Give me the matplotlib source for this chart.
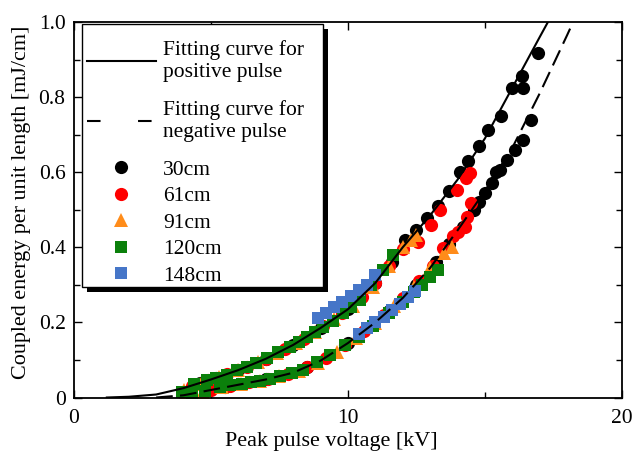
import matplotlib
matplotlib.use('Agg')
import matplotlib.pyplot as plt
from matplotlib.lines import Line2D
from matplotlib.patches import Rectangle

plt.rcParams['font.family'] = ['Liberation Serif', 'DejaVu Serif']

# fitting curves
fit_pos_v = [1.2, 2, 3, 4, 5, 6, 7, 8, 9, 10, 11, 12, 13, 14, 15, 16, 17, 17.3]
fit_pos_e = [0, 0.002, 0.008, 0.025, 0.048, 0.073, 0.103, 0.14, 0.185, 0.235,
             0.305, 0.40, 0.485, 0.58, 0.69, 0.825, 0.96, 1.0]
fit_neg_v = [3, 4, 5, 6, 7, 8, 9, 10, 11, 12, 13, 14, 15, 16, 17, 18, 18.22]
fit_neg_e = [0, 0.006, 0.02, 0.034, 0.048, 0.066, 0.098, 0.145, 0.20, 0.265,
             0.345, 0.445, 0.55, 0.665, 0.81, 0.965, 1.0]

# 30cm
v30_pos = [4.6, 5.2, 6.0, 7.0, 8.0, 9.0, 10.0, 11.0, 11.6, 12.1, 12.5, 12.9, 13.3,
           13.7, 14.1, 14.4, 14.8, 15.1, 15.6, 16.0, 16.35, 16.4, 16.95]
e30_pos = [0.039, 0.053, 0.073, 0.103, 0.14, 0.185, 0.235, 0.305, 0.36, 0.42, 0.445,
           0.478, 0.51, 0.549, 0.60, 0.629, 0.67, 0.713, 0.749, 0.824, 0.855, 0.824, 0.918]
v30_neg = [5.5, 7.0, 8.5, 10.0, 11.5, 12.5, 13.2, 13.7, 14.2, 14.6, 14.8, 15.0, 15.25,
           15.4, 15.55, 15.8, 16.1, 16.4, 16.7]
e30_neg = [0.028, 0.048, 0.08, 0.145, 0.23, 0.30, 0.36, 0.41, 0.455, 0.50, 0.522, 0.545,
           0.571, 0.60, 0.607, 0.633, 0.66, 0.687, 0.74]

# 61cm
v61_pos = [4.3, 4.9, 5.6, 6.3, 7.0, 7.7, 8.4, 9.1, 9.8, 10.5, 11.0, 11.5, 12.0, 12.57,
           13.05, 13.36, 13.97, 14.3, 14.45]
e61_pos = [0.03, 0.046, 0.062, 0.082, 0.103, 0.128, 0.155, 0.19, 0.226, 0.268, 0.305,
           0.35, 0.395, 0.415, 0.46, 0.50, 0.553, 0.585, 0.598]
v61_neg = [4.2, 5.0, 5.7, 6.4, 7.1, 7.8, 8.5, 9.2, 9.9, 10.6, 11.3, 12.0, 12.6, 13.1,
           13.48, 13.84, 14.0, 14.27, 14.33, 14.51]
e61_neg = [0.004, 0.02, 0.03, 0.04, 0.05, 0.062, 0.08, 0.105, 0.14, 0.178, 0.22, 0.265,
           0.31, 0.35, 0.398, 0.429, 0.44, 0.455, 0.482, 0.518]

# 91cm
v91_pos = [4.0, 4.6, 5.3, 6.0, 6.7, 7.4, 8.1, 8.8, 9.5, 10.2, 10.9, 11.5, 12.0, 12.3, 12.5]
e91_pos = [0.02, 0.036, 0.055, 0.073, 0.094, 0.118, 0.145, 0.175, 0.208, 0.245, 0.295,
           0.35, 0.40, 0.42, 0.433]
v91_neg = [4.0, 4.7, 5.4, 6.1, 6.8, 7.5, 8.2, 8.9, 9.6, 10.3, 11.0, 11.7, 12.4, 13.0,
           13.5, 13.8]
e91_neg = [0.004, 0.015, 0.027, 0.035, 0.045, 0.056, 0.07, 0.093, 0.12, 0.158, 0.198,
           0.245, 0.295, 0.345, 0.385, 0.40]

# 120cm
v120_pos = [3.93, 4.4, 4.84, 5.2, 5.57, 5.95, 6.3, 6.65, 7.03, 7.45, 7.88, 8.2, 8.49,
            8.8, 9.1, 9.45, 9.83, 10.1, 10.44, 10.85, 11.29, 11.65]
e120_pos = [0.015, 0.035, 0.047, 0.053, 0.06, 0.072, 0.082, 0.093, 0.104, 0.12, 0.135,
            0.148, 0.162, 0.175, 0.189, 0.205, 0.224, 0.24, 0.26, 0.30, 0.34, 0.38]
v120_neg = [4.3, 4.8, 5.33, 5.7, 6.12, 6.45, 6.79, 7.15, 7.52, 7.95, 8.37, 8.86, 9.34,
            9.89, 10.4, 10.9, 11.5, 12.0, 12.4, 12.7, 13.0, 13.3]
e120_neg = [0.01, 0.018, 0.029, 0.032, 0.036, 0.04, 0.045, 0.05, 0.058, 0.066, 0.073,
            0.095, 0.113, 0.14, 0.162, 0.19, 0.225, 0.255, 0.28, 0.3, 0.32, 0.34]

# 148cm
v148_pos = [8.9, 9.2, 9.5, 9.8, 10.1, 10.4, 10.7, 11.0]
e148_pos = [0.212, 0.225, 0.24, 0.255, 0.27, 0.287, 0.30, 0.325]
v148_neg = [10.4, 10.7, 11.0, 11.3, 11.6, 11.9, 12.2, 12.45]
e148_neg = [0.17, 0.185, 0.2, 0.215, 0.232, 0.25, 0.268, 0.285]

labels = ['30cm', '61cm', '91cm', '120cm', '148cm']
colors = ['black', '#ff0000', '#ff8c1a', '#0b800b', '#4676c8']
markers = ['o', 'o', '^', 's', 's']
sizes = [9.5, 9.5, 10.5, 9, 9]
series = [(v30_pos, e30_pos, v30_neg, e30_neg),
          (v61_pos, e61_pos, v61_neg, e61_neg),
          (v91_pos, e91_pos, v91_neg, e91_neg),
          (v120_pos, e120_pos, v120_neg, e120_neg),
          (v148_pos, e148_pos, v148_neg, e148_neg)]

fig = plt.figure(figsize=(6.32, 4.51), dpi=100)
ax = fig.add_axes([0.117, 0.1186, 0.867, 0.8325])

for (vp, ep, vn, en), c, m, s in zip(series, colors, markers, sizes):
    ax.plot(vp + vn, ep + en, linestyle='none', marker=m, ms=s, color=c,
            markeredgewidth=0, zorder=2)

ax.plot(fit_pos_v, fit_pos_e, color='black', lw=1.5, zorder=3)
ax.plot(fit_neg_v, fit_neg_e, color='black', lw=1.5, linestyle=(0, (8, 3.5)), zorder=3)

ax.set_xlim(0, 20)
ax.set_ylim(0, 1.0)
ax.set_xticks([0, 10, 20])
ax.set_xticks([5, 15], minor=True)
ax.set_yticks([0, 0.2, 0.4, 0.6, 0.8, 1.0])
ax.set_yticklabels(['0', '0.2', '0.4', '0.6', '0.8', '1.0'])
ax.set_yticks([0.1, 0.3, 0.5, 0.7, 0.9], minor=True)
ax.tick_params(which='both', direction='in', top=True, right=True, labelsize=15.5, width=1)
ax.tick_params(which='major', length=6)
ax.tick_params(which='minor', length=4)
ax.tick_params(axis='x', pad=8)
ax.tick_params(axis='y', pad=6)
for sp in ax.spines.values():
    sp.set_linewidth(1.3)

ax.set_xlabel('Peak pulse voltage [kV]', fontsize=15.9)
ax.xaxis.set_label_coords(0.47, -0.093)
ax.set_ylabel('Coupled energy per unit length [mJ/cm]', fontsize=15.9)
ax.yaxis.set_label_coords(-0.078, 0.52)

# legend box with a heavy drop shadow, as in the original
box_x0, box_y0, box_w, box_h = 0.0146, 0.294, 0.44, 0.7005
ax.add_patch(Rectangle((box_x0 + 0.009, box_y0 - 0.0135), box_w, box_h, transform=ax.transAxes,
                       facecolor='black', edgecolor='none', zorder=4.8, clip_on=False))
ax.add_patch(Rectangle((box_x0, box_y0), box_w, box_h, transform=ax.transAxes,
                       facecolor='white', edgecolor='black', lw=1.0, zorder=4.9, clip_on=False))

line_handles = [Line2D([], [], color='black', lw=1.5),
                Line2D([], [], color='black', lw=1.5, linestyle=(0, (6.5, 18)))]
line_labels = ['Fitting curve for\npositive pulse', 'Fitting curve for\nnegative pulse']
leg1 = ax.legend(line_handles, line_labels, loc='upper left', bbox_to_anchor=(0.0237, 0.951),
                 fontsize=15.5, frameon=False, handlelength=3.2, handletextpad=0.35,
                 labelspacing=0.85, borderpad=0, borderaxespad=0)
leg1.set_zorder(5)
ax.add_artist(leg1)

mk_handles = [Line2D([], [], linestyle='none', marker=m, ms=s, color=c, markeredgewidth=0)
              for c, m, s in zip(colors, markers, sizes)]
leg2 = ax.legend(mk_handles, labels, loc='upper left', bbox_to_anchor=(0.0237, 0.634),
                 fontsize=15.5, frameon=False, handlelength=3.2, handletextpad=0.35,
                 labelspacing=0.3, borderpad=0, borderaxespad=0)
leg2.set_zorder(5)

fig.savefig('out.png', dpi=100)
